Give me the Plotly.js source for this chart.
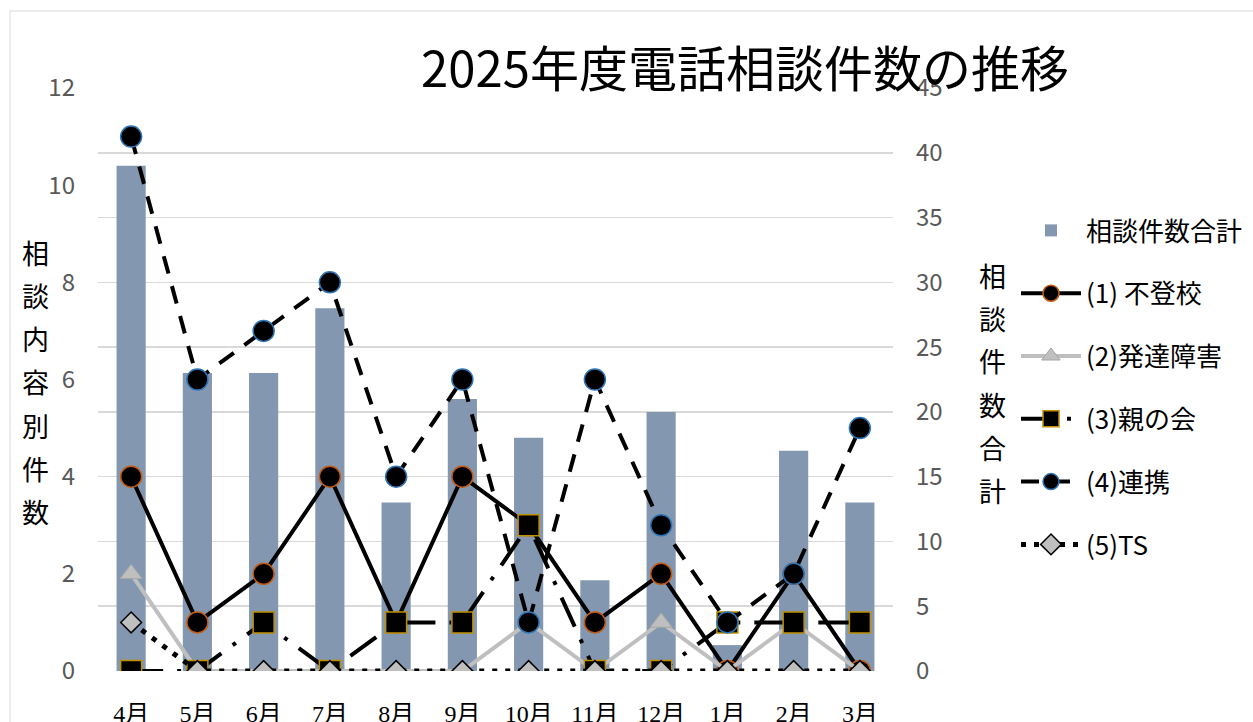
<!DOCTYPE html>
<html>
<head>
<meta charset="utf-8">
<script src="https://cdn.plot.ly/plotly-3.0.1.min.js"></script>
<style>html,body{margin:0;padding:0;background:#fff;}#chart{width:1253px;height:722px;}</style>
</head>
<body>
<div id="chart"></div>
<script>
const months = ['4月','5月','6月','7月','8月','9月','10月','11月','12月','1月','2月','3月'];
const totalCalls = [39,23,23,28,13,21,18,7,20,2,17,13];
const futoko = [4,1,2,4,1,4,3,1,2,0,2,0];
const hattatsu = [2,0,0,0,0,0,1,0,1,0,1,0];
const oyanokai = [0,0,1,0,1,1,3,0,0,1,1,1];
const renkei = [11,6,7,8,4,6,1,6,3,1,2,5];
const ts = [1,0,0,0,0,0,0,0,0,0,0,0];

const seriesNames = ['相談件数合計','(1) 不登校','(2)発達障害','(3)親の会','(4)連携','(5)TS'];
const chartTitle = '2025年度電話相談件数の推移';
const leftTitle = '相談内容別件数';
const rightTitle = '相談件数合計';

const W = 1253, H = 722;
const L = 98, R = 893, T = 88, B = 671;
const px2x = p => (p - L) / (R - L);
const py2y = p => (B - p) / (B - T);

const sansJP = 'Noto Sans CJK JP, Noto Sans, sans-serif';

const traces = [
  {type:'bar', x:months, y:totalCalls, name:seriesNames[0], yaxis:'y', legendgroup:'g0',
   marker:{color:'#8497b0'}, hoverinfo:'y'},
  {type:'scatter', mode:'lines+markers', x:months, y:futoko, name:seriesNames[1], yaxis:'y2', legendgroup:'g1',
   line:{color:'#000', width:4},
   marker:{symbol:'circle', size:21, color:'#000', line:{color:'#c55a11', width:1.5}}},
  {type:'scatter', mode:'lines+markers', x:months, y:hattatsu, name:seriesNames[2], yaxis:'y2', legendgroup:'g2',
   line:{color:'#bfbfbf', width:4},
   marker:{symbol:'triangle-up', size:19, color:'#bfbfbf', line:{color:'#a6a6a6', width:1}}},
  {type:'scatter', mode:'lines+markers', x:months, y:oyanokai, name:seriesNames[3], yaxis:'y2', legendgroup:'g3',
   line:{color:'#000', width:4, dash:'32px,14px,4px,14px'},
   marker:{symbol:'square', size:21, color:'#000', line:{color:'#bf9000', width:1.5}}},
  {type:'scatter', mode:'lines+markers', x:months, y:renkei, name:seriesNames[4], yaxis:'y2', legendgroup:'g4',
   line:{color:'#000', width:4, dash:'18px,13px'},
   marker:{symbol:'circle', size:21, color:'#000', line:{color:'#2e75b6', width:1.5}}},
  {type:'scatter', mode:'lines+markers', x:months, y:ts, name:seriesNames[5], yaxis:'y2', legendgroup:'g5',
   line:{color:'#000', width:5, dash:'5px,8px'},
   marker:{symbol:'diamond', size:16, color:'#bfbfbf', line:{color:'#000', width:1.5}}}
];

function stacked(str, xpx, y0px, step) {
  return Array.from(str).map((ch, i) => ({
    text: ch, xref:'paper', yref:'paper', x: px2x(xpx), y: py2y(y0px + i*step),
    xanchor:'center', yanchor:'middle', showarrow:false,
    font:{family:sansJP, size:27, color:'#000'}
  }));
}

const layout = {
  width: W, height: H,
  margin: {l: L, r: W - R, t: T, b: H - B, pad: 0, autoexpand:false},
  paper_bgcolor:'#fff', plot_bgcolor:'#fff',
  showlegend: true,
  bargap: 0.56,
  title: {text: chartTitle, font:{family:sansJP, size:49, color:'#000'},
          xref:'container', x: 745/W, xanchor:'center', yref:'container', y: 1 - 70/H, yanchor:'middle'},
  xaxis: {type:'category', range:[-0.5, months.length - 0.5], autorange:false,
          showgrid:false, zeroline:false, showline:false, ticks:'',
          tickfont:{family:'Liberation Serif, Noto Sans CJK JP, serif', size:24, color:'#000'},
          ticklabelstandoff: 26},
  yaxis: {side:'right', range:[0,45], dtick:5, showgrid:true, gridcolor:'#d9d9d9', gridwidth:1.5,
          zeroline:false, showline:false, ticks:'',
          tickfont:{family:sansJP, size:24, color:'#595959'}, ticklabelstandoff: 22},
  yaxis2: {overlaying:'y', side:'left', range:[0,12], dtick:2, showgrid:false, zeroline:false,
           showline:false, ticks:'',
           tickfont:{family:sansJP, size:24, color:'#595959'}, ticklabelstandoff: 22},
  legend: {x: px2x(1016), xanchor:'left', y: py2y(207), yanchor:'top',
           font:{family:sansJP, size:26, color:'#000'}, tracegroupgap: 26,
           bgcolor:'rgba(0,0,0,0)', itemwidth: 60, traceorder:'grouped'},
  shapes: [{type:'rect', xref:'paper', yref:'paper', layer:'below',
            x0: px2x(10), x1: px2x(1300), y0: py2y(760), y1: py2y(11),
            line:{color:'#d9d9d9', width:1}, fillcolor:'rgba(0,0,0,0)'}],
  annotations: [].concat(stacked(leftTitle, 35, 252, 43.3), stacked(rightTitle, 992, 275, 43))
};

Plotly.newPlot('chart', traces, layout, {displayModeBar:false, staticPlot:true});
</script>
</body>
</html>
